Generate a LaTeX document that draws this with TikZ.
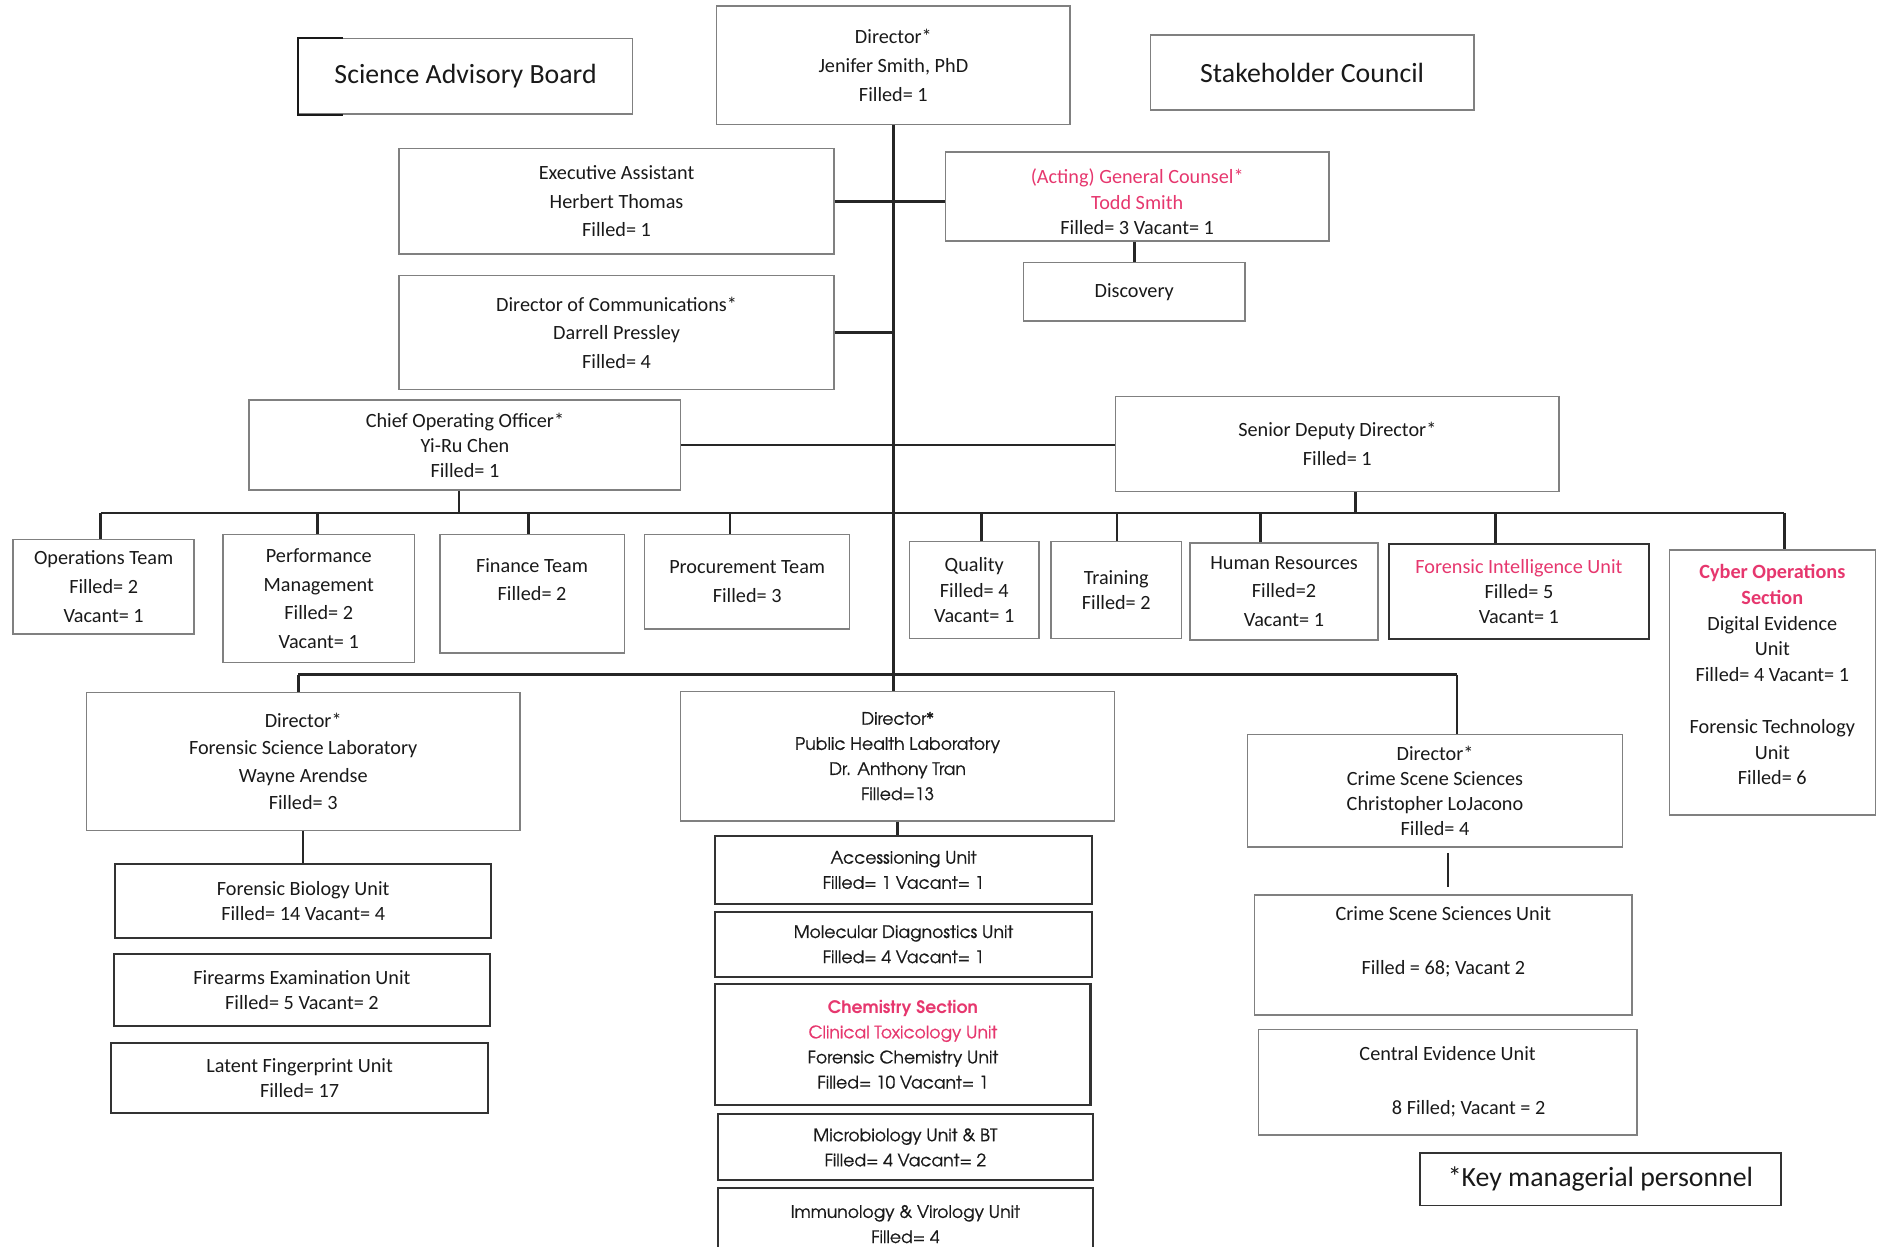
\documentclass[tikz,border=0pt]{standalone}
\usepackage{fontspec}
\setmainfont{Carlito}
\newfontfamily\gothic[UprightFeatures={FakeBold=0.7}]{TeX Gyre Adventor}
\usetikzlibrary{calc}
\definecolor{pinkred}{RGB}{230,55,110}
\newcommand\bx[7][]{\node[box,#1,minimum width={(#5-#3)*0.025cm},minimum height={(#6-#4)*0.025cm}] (#2) at ({(#3+#5)/2},{(#4+#6)/2}) {#7};}
\begin{document}
\begin{tikzpicture}[x=0.025cm,y=-0.025cm,
  box/.style={draw=black!50,line width=0.9pt,align=center,inner sep=2pt,text=black!90,font=\fontsize{12}{17}\selectfont},
  l21/.style={font=\fontsize{12}{15}\selectfont},
  dark/.style={draw=black!80,line width=1.2pt},
  gfont/.style={font=\gothic\fontsize{10.2}{14.9}\selectfont},
  big/.style={font=\fontsize{16.5}{20}\selectfont},
  conn/.style={draw=black!85,line width=1.5pt}]
\useasboundingbox (0,0) rectangle (1568,1040);
% boxes
\bx[big]{sab}{249}{32}{528}{95}{Science Advisory Board}
\bx{dir}{598}{5}{893}{104}{Director*\\Jenifer Smith, PhD\\Filled= 1}
\bx[big]{sc}{960}{29}{1230}{92}{Stakeholder Council}
\bx{ea}{333}{124}{696}{212}{Executive Assistant\\Herbert Thomas\\Filled= 1}
\bx[l21]{gc}{789}{127}{1109}{201}{\rule{0pt}{15pt}\textcolor{pinkred}{(Acting) General Counsel*}\\\textcolor{pinkred}{Todd Smith}\\Filled= 3 Vacant= 1}
\bx{disc}{854}{219}{1039}{268}{Discovery}
\bx{dc}{333}{230}{696}{325}{Director of Communications*\\Darrell Pressley\\Filled= 4}
\bx[l21]{coo}{208}{334}{568}{409}{Chief Operating Officer*\\Yi-Ru Chen\\Filled= 1}
\bx{sdd}{931}{331}{1301}{410}{Senior Deputy Director*\\Filled= 1}
\bx{ops}{11}{450}{162}{529}{Operations Team\\Filled= 2\\Vacant= 1}
\bx{perf}{186}{446}{346}{553}{Performance\\Management\\Filled= 2\\Vacant= 1}
\bx{fin}{367}{446}{521}{545}{Finance Team\\Filled= 2\\\mbox{}}
\bx{proc}{538}{446}{709}{525}{Procurement Team\\Filled= 3}
\bx[l21]{qual}{759}{452}{867}{533}{Quality\\Filled= 4\\Vacant= 1}
\bx[l21]{train}{877}{452}{986}{533}{Training\\Filled= 2}
\bx{hr}{993}{453}{1150}{534}{Human Resources\\Filled=2\\Vacant= 1}
\bx[l21,dark]{fiu}{1159}{454}{1376}{533}{\textcolor{pinkred}{Forensic Intelligence Unit}\\Filled= 5\\Vacant= 1}
\bx[font=\fontsize{12}{15.3}\selectfont]{cyber}{1393}{459}{1565}{680}{\textcolor{pinkred}{\bfseries Cyber Operations}\\\textcolor{pinkred}{\bfseries Section}\\Digital Evidence\\Unit\\Filled= 4 Vacant= 1\\\mbox{}\\Forensic Technology\\Unit\\Filled= 6\\[-6pt]\mbox{}}
\bx[font=\fontsize{12}{16.3}\selectfont]{fsl}{72}{578}{434}{693}{Director*\\Forensic Science Laboratory\\Wayne Arendse\\Filled= 3}
\bx[gfont]{phl}{568}{577}{930}{685}{Director*\\Public Health Laboratory\\Dr. Anthony Tran\\Filled=13}
\bx[l21]{css}{1041}{613}{1354}{707}{Director*\\Crime Scene Sciences\\Christopher LoJacono\\Filled= 4}
\bx[l21,dark]{fbu}{96}{721}{410}{783}{Forensic Biology Unit\\Filled= 14 Vacant= 4}
\bx[l21,dark]{fire}{95}{796}{409}{856}{Firearms Examination Unit\\Filled= 5 Vacant= 2}
\bx[l21,dark]{lfu}{93}{870}{407}{929}{Latent Fingerprint Unit\\Filled= 17}
\bx[gfont,dark]{acc}{597}{698}{911}{754}{Accessioning Unit\\Filled= 1 Vacant= 1}
\bx[gfont,dark]{mol}{597}{761}{911}{815}{Molecular Diagnostics Unit\\Filled= 4 Vacant= 1}
\bx[gfont,dark]{chem}{597}{821}{910}{922}{\textcolor{pinkred}{\bfseries Chemistry Section}\\\textcolor{pinkred}{Clinical Toxicology Unit}\\Forensic Chemistry Unit\\Filled= 10 Vacant= 1}
\bx[gfont,dark]{micro}{599}{930}{912}{985}{Microbiology Unit \& BT\\Filled= 4 Vacant= 2}
\bx[gfont,dark]{imm}{599}{991}{912}{1052}{Immunology \& Virology Unit\\Filled= 4}
\bx{cssu}{1047}{747}{1362}{847}{Crime Scene Sciences Unit\\[15pt]Filled = 68; Vacant 2\\\mbox{}}
\bx{ceu}{1050}{859}{1366}{947}{Central Evidence Unit\\[15pt]\hspace*{25pt}8 Filled; Vacant = 2}
\bx[big,draw=black!80]{key}{1185}{962}{1486}{1006}{*Key managerial personnel}
% dark corner of the advisory board box
\draw[draw=black!90,line width=1.2pt] ($(sab.north west)+(38,0)$) -- (sab.north west) -- (sab.south west) -- ($(sab.south west)+(38,0)$);
% connectors
\coordinate (bar) at (0,428);
\coordinate (lowbar) at (0,563);
\draw[conn] (dir.south) -- (dir.south |- phl.north);
\draw[conn] (ea.east) -- (ea.east -| gc.west);
\draw[conn] (dc.east) -- (dc.east -| dir.south);
\draw[conn] (disc.north |- gc.south) -- (disc.north);
\draw[conn] (coo.east) -- (coo.east -| sdd.west);
\coordinate (cooD) at ($(coo.south)+(-5,0)$);
\coordinate (sddD) at ($(sdd.south)+(15,0)$);
\coordinate (opsD) at ($(ops.north)+(-2.5,0)$);
\coordinate (perfD) at ($(perf.north)+(-1,0)$);
\coordinate (finD) at ($(fin.north)+(-3,0)$);
\coordinate (procD) at ($(proc.north)+(-14.5,0)$);
\coordinate (qualD) at ($(qual.north)+(6,0)$);
\coordinate (trainD) at ($(train.north)+(0.5,0)$);
\coordinate (hrD) at ($(hr.north)+(-19.5,0)$);
\coordinate (fiuD) at ($(fiu.north)+(-19.5,0)$);
\coordinate (cybD) at ($(cyber.north)+(10,0)$);
\draw[conn] (opsD |- bar) -- (cybD |- bar);
\draw[conn] (cooD) -- (cooD |- bar);
\draw[conn] (sddD) -- (sddD |- bar);
\foreach \d in {opsD,perfD,finD,procD,qualD,trainD,hrD,fiuD,cybD}
  \draw[conn] (\d |- bar) -- (\d);
\coordinate (fslD) at ($(fsl.north)+(-4,0)$);
\coordinate (cssD) at ($(css.north)+(18.5,0)$);
\draw[conn] (fslD |- lowbar) -- (cssD |- lowbar);
\draw[conn] (fslD |- lowbar) -- (fslD);
\draw[conn] (cssD |- lowbar) -- (cssD);
\draw[conn] (fsl.south) -- (fsl.south |- fbu.north);
\draw[conn] (phl.south) -- (phl.south |- acc.north);
\coordinate (cssB) at ($(css.south)+(11,0)$);
\draw[conn,shorten <=0.1cm,shorten >=0.15cm] (cssB) -- (cssB |- cssu.north);
\end{tikzpicture}
\end{document}
